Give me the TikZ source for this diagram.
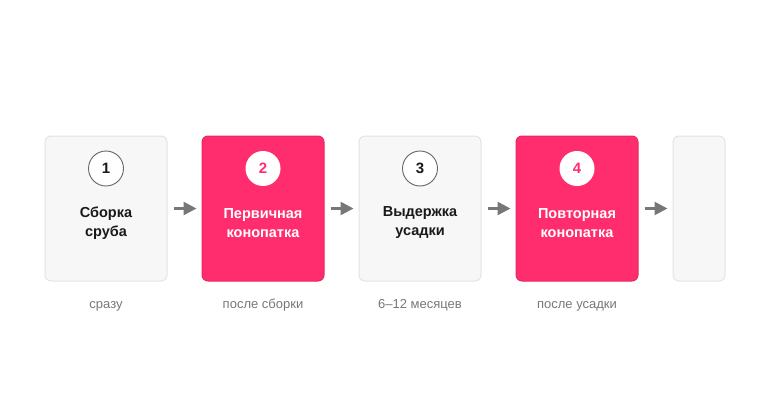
\documentclass[tikz,border=0pt]{standalone}
\usepackage{fontspec}
\setmainfont{Liberation Sans}
\usetikzlibrary{arrows.meta}
\definecolor{pinkfill}{HTML}{FF2D6E}
\definecolor{pinkedge}{HTML}{E8285F}
\definecolor{lightfill}{HTML}{F7F7F8}
\definecolor{lightedge}{HTML}{E3E3E8}
\definecolor{arrowgray}{HTML}{777777}
\definecolor{labelgray}{HTML}{777777}

\begin{document}
\begin{tikzpicture}[x=1pt,y=-1pt,
    lightbox/.style={draw=lightedge,fill=lightfill,line width=1pt,rounded corners=6pt,minimum width=122pt,minimum height=145pt,inner sep=0pt},
    pinkbox/.style={draw=pinkedge,fill=pinkfill,line width=1pt,rounded corners=6pt,minimum width=122pt,minimum height=145pt,inner sep=0pt},
    numlight/.style={circle,draw=black!60,fill=white,line width=0.9pt,minimum size=35pt,inner sep=0pt,font=\fontsize{15}{18}\selectfont\bfseries,text=black!90},
    numpink/.style={circle,fill=white,minimum size=35pt,inner sep=0pt,font=\fontsize{15}{18}\selectfont\bfseries,text=pinkfill},
    steptitle/.style={align=center,font=\fontsize{14.5}{19}\selectfont\bfseries},
    when/.style={font=\fontsize{13}{16}\selectfont,text=labelgray,anchor=base},
    flow/.style={draw=arrowgray,line width=2.6pt,-{Triangle[length=13pt,width=13pt]}}]
    \useasboundingbox (0,0) rectangle (770,417);

    % Step boxes
    \node[lightbox] (b1) at (106,208.5) {};
    \node[pinkbox] (b2) at (263,208.5) {};
    \node[lightbox] (b3) at (420,208.5) {};
    \node[pinkbox] (b4) at (577,208.5) {};
    \node[lightbox,minimum width=52pt] (b5) at (699,208.5) {};

    % Numbers
    \node[numlight] (n1) at (106,168.5) {1};
    \node[numpink] (n2) at (263,168.5) {2};
    \node[numlight] (n3) at (420,168.5) {3};
    \node[numpink] (n4) at (577,168.5) {4};

    % Titles
    \node[steptitle,text=black!90] (t1) at (106,223) {Сборка\\сруба};
    \node[steptitle,text=white] (t2) at (263,223) {Первичная\\конопатка};
    \node[steptitle,text=black!90] (t3) at (420,223) {Выдержка\\усадки};
    \node[steptitle,text=white] (t4) at (577,223) {Повторная\\конопатка};

    % Timing labels
    \node[when] (w1) at (106,308) {сразу};
    \node[when] (w2) at (263,308) {после сборки};
    \node[when] (w3) at (420,308) {6–12 месяцев};
    \node[when] (w4) at (577,308) {после усадки};

    % Arrows
    \draw[flow] ([xshift=6pt]b1.east) -- ([xshift=-5pt]b2.west);
    \draw[flow] ([xshift=6pt]b2.east) -- ([xshift=-5pt]b3.west);
    \draw[flow] ([xshift=6pt]b3.east) -- ([xshift=-5pt]b4.west);
    \draw[flow] ([xshift=6pt]b4.east) -- ([xshift=-5pt]b5.west);
\end{tikzpicture}
\end{document}
